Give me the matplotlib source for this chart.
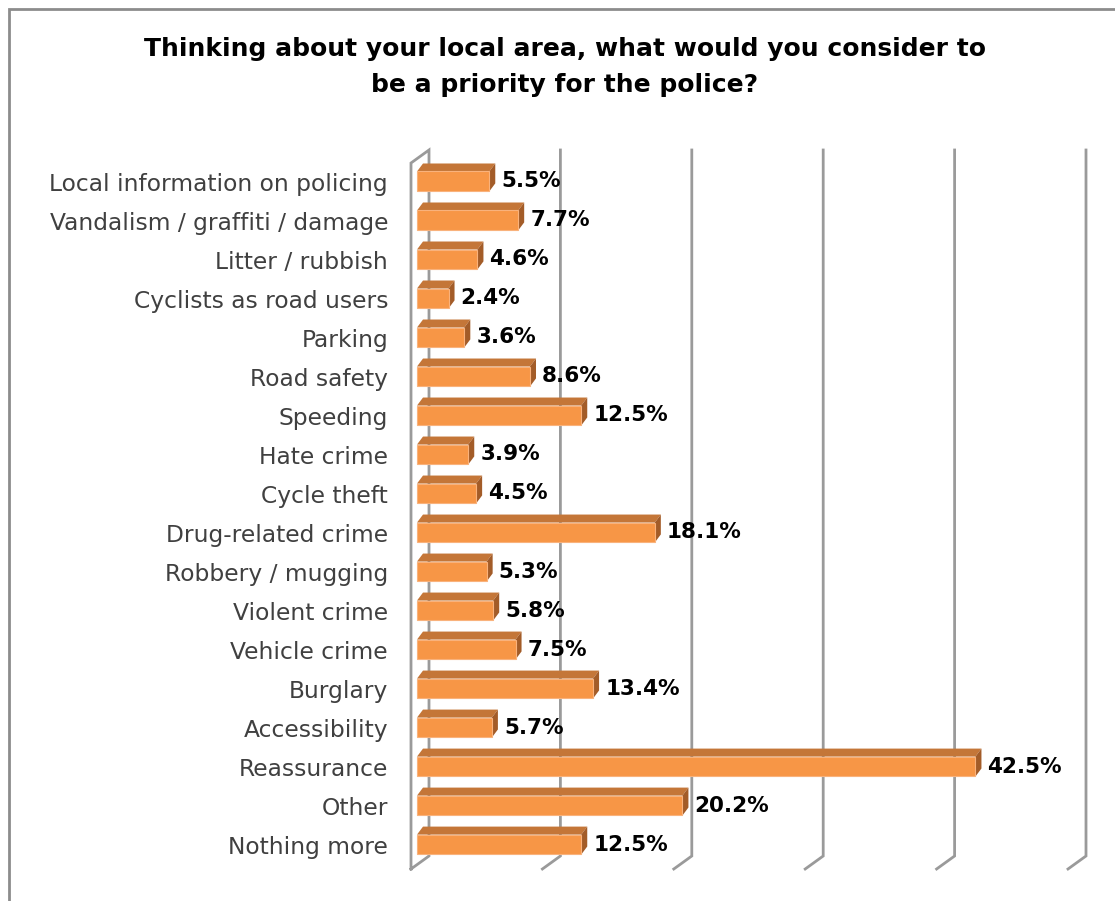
import numpy as np
import matplotlib.pyplot as plt
from matplotlib.patches import Polygon, Rectangle
from matplotlib.lines import Line2D

# Priorities for the police (percent of respondents)
categories = ["Local information on policing", "Vandalism / graffiti / damage",
              "Litter / rubbish", "Cyclists as road users", "Parking", "Road safety",
              "Speeding", "Hate crime", "Cycle theft", "Drug-related crime",
              "Robbery / mugging", "Violent crime", "Vehicle crime", "Burglary",
              "Accessibility", "Reassurance", "Other", "Nothing more"]
values = [5.5, 7.7, 4.6, 2.4, 3.6, 8.6, 12.5, 3.9, 4.5, 18.1,
          5.3, 5.8, 7.5, 13.4, 5.7, 42.5, 20.2, 12.5]
gridlines = [0, 10, 20, 30, 40, 50]

W, H = 1115, 901
fig = plt.figure(figsize=(W / 100, H / 100), dpi=100)

# axes = front plane of the bars
ax = fig.add_axes([417 / W, (H - 869) / H, (1074 - 417) / W, 719 / H])
ax.set_xlim(0, 50)
ax.set_ylim(17.627, -0.806)
ax.axis('off')

grid_col = '#9a9a9a'
front_col = '#F79646'
top_col = '#C47638'
side_col = '#A35C28'
depth = np.array([6, 8])        # bar depth in pixels (right, up)
wall_back = np.array([12, 0])   # back wall relative to bar front plane
wall_front = np.array([-6, -13])

xt = ax.get_xaxis_transform()


def pt(tr, x, y, off=(0, 0)):
    p = tr.transform((x, y))
    return p + np.asarray(off)


# walls and gridlines
for g in gridlines:
    top_b = pt(xt, g, 1, wall_back)
    bot_b = pt(xt, g, 0, wall_back + np.array([0, 13]))
    bot_f = pt(xt, g, 0, wall_front + np.array([0, 13]))
    xs = [top_b[0], bot_b[0], bot_f[0]]
    ys = [top_b[1], bot_b[1], bot_f[1]]
    if g == 0:
        top_f = pt(xt, g, 1, wall_front)
        xs = [bot_f[0], top_f[0], top_b[0], bot_b[0], bot_f[0]]
        ys = [bot_f[1], top_f[1], top_b[1], bot_b[1], bot_f[1]]
    fig.add_artist(Line2D(xs, ys, transform=None, color=grid_col, lw=2,
                          solid_joinstyle='miter', zorder=0.5))

# 3D bars
h = 0.51
for i, (cat, v) in enumerate(zip(categories, values)):
    x0, yt = pt(ax.transData, 0, i - h / 2)
    x1, yb = pt(ax.transData, v, i + h / 2)
    dx, dy = depth
    top = Polygon([(x0, yt), (x1, yt), (x1 + dx, yt + dy), (x0 + dx, yt + dy)],
                  closed=True, transform=None, facecolor=top_col, edgecolor='none')
    side = Polygon([(x1, yb), (x1, yt), (x1 + dx, yt + dy), (x1 + dx, yb + dy)],
                   closed=True, transform=None, facecolor=side_col, edgecolor='none')
    front = Rectangle((x0, yb), x1 - x0, yt - yb, transform=None,
                      facecolor=front_col, edgecolor='#F9B27C', lw=0.8)
    for p in (top, side, front):
        p.set_zorder(1)
        fig.add_artist(p)
    yc = (yt + yb) / 2
    fig.text((x1 + 12) / W, yc / H, f"{v:.1f}%", ha='left', va='center',
             fontsize=15.5, fontweight='bold', color='black', zorder=3)
    fig.text(388 / W, (yc - 3) / H, cat, ha='right', va='center',
             fontsize=16.8, color='#404040', zorder=3)

fig.text(565 / W, (H - 67) / H,
         "Thinking about your local area, what would you consider to\nbe a priority for the police?",
         ha='center', va='center', fontsize=18, fontweight='bold',
         linespacing=1.6, color='black')

# chart area border (right and bottom edges fall outside the image)
fig.add_artist(Rectangle((9, -20), W + 20, H - 9 + 20, transform=None,
                         fill=False, edgecolor='#8c8c8c', lw=2))

fig.savefig('out.png', dpi=100)
